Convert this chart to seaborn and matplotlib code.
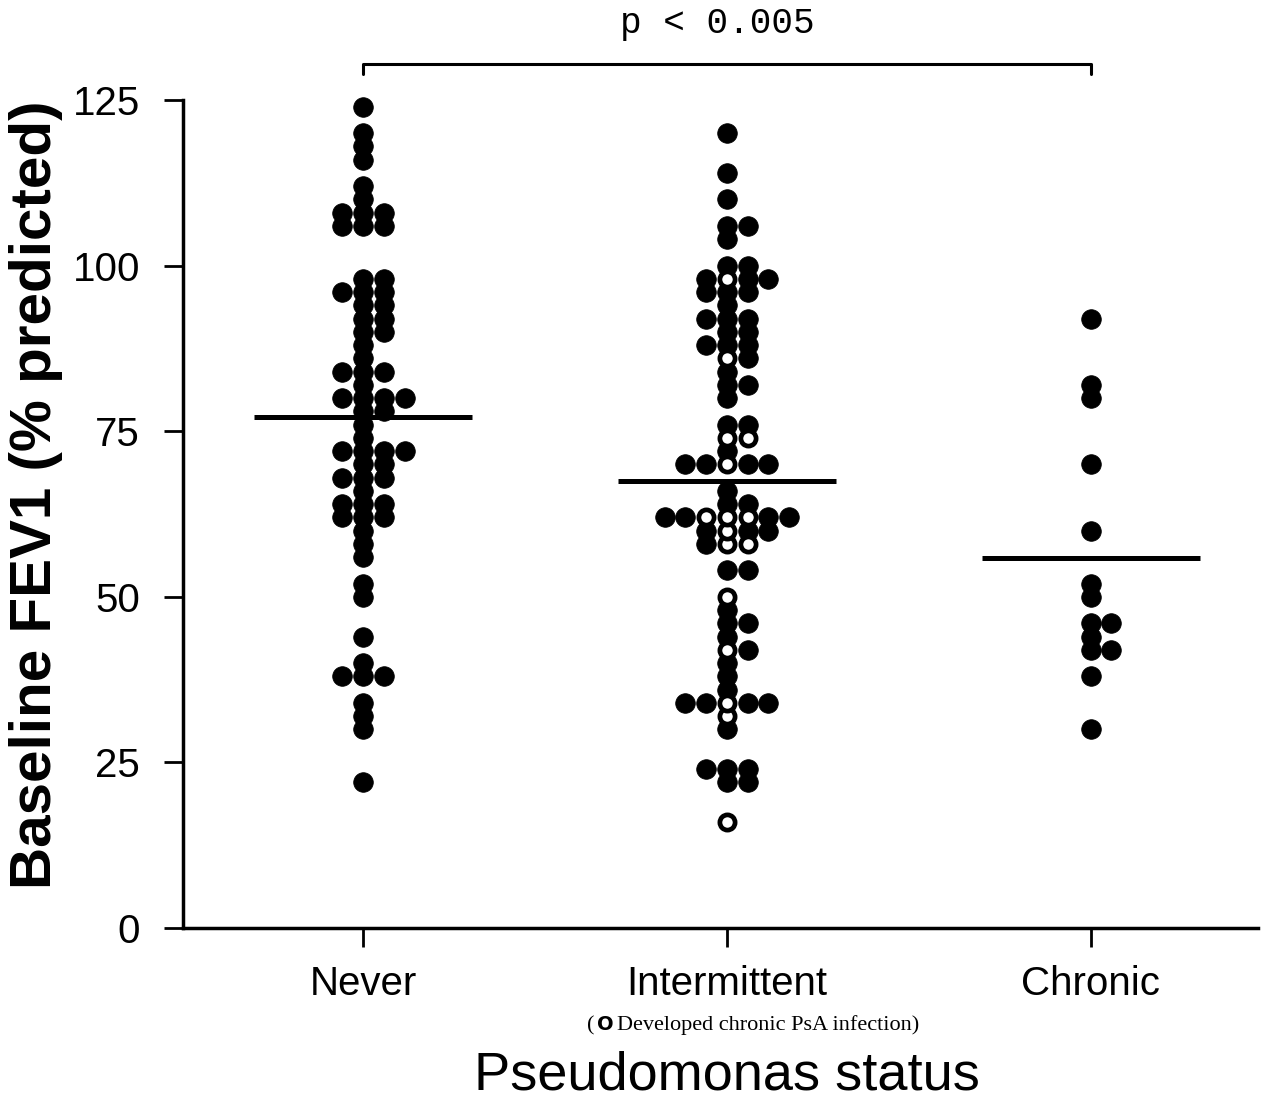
import numpy as np
import pandas as pd
import seaborn as sns
import matplotlib.pyplot as plt

# Data (FEV1 % predicted, one value per patient)
statuses = ['Never', 'Intermittent', 'Chronic']

never_fev1 = [124, 120, 118, 116, 112, 110, 108, 108, 108, 106, 106, 106,
              98, 98, 96, 96, 96, 94, 94, 92, 92, 90, 90, 88, 86,
              84, 84, 84, 82, 80, 80, 80, 80, 78, 78, 76, 74,
              72, 72, 72, 72, 70, 70, 68, 68, 68, 66, 64, 64, 64,
              62, 62, 62, 60, 58, 56, 52, 50, 44, 40, 38, 38, 38,
              34, 32, 30, 22]

# intermittent patients who stayed intermittent (filled dots)
intermittent_fev1 = [120, 114, 110, 106, 106, 104, 100, 100, 98, 98, 98,
                     96, 96, 96, 94, 92, 92, 92, 90, 90, 88, 88, 88, 86,
                     84, 82, 82, 80, 76, 76, 72, 70, 70, 70, 70, 66, 64, 64,
                     62, 62, 62, 62, 60, 60, 60, 58, 54, 54, 48, 46, 46,
                     44, 42, 40, 38, 36, 34, 34, 34, 34, 30, 24, 24, 24,
                     22, 22]
# intermittent patients who later developed chronic PsA infection (open dots)
intermittent_open_fev1 = [98, 86, 74, 74, 70, 62, 62, 62, 60, 58, 58, 50,
                          42, 34, 32, 16]

chronic_fev1 = [92, 82, 80, 70, 60, 52, 50, 46, 46, 44, 42, 42, 38, 30]

group_means = [77.2, 67.5, 55.8]
y_ticks = [0, 25, 50, 75, 100, 125]
p_label = 'p < 0.005'

# one row per patient
rows = []
for status, vals, developed in [('Never', never_fev1, False),
                                ('Intermittent', intermittent_fev1, False),
                                ('Intermittent', intermittent_open_fev1, True),
                                ('Chronic', chronic_fev1, False)]:
    rows += [(status, v, developed) for v in vals]
df = pd.DataFrame(rows, columns=['status', 'fev1', 'developed'])

# dot-plot layout: equal values are put side by side around the category
slots = [0, 1, -1, 2, -2, 3, -3, 4, -4]
step = 0.057
df = df.sort_values(['status', 'fev1', 'developed'],
                    ascending=[True, True, False], kind='stable')
df['slot'] = df.groupby(['status', 'fev1']).cumcount().map(lambda i: slots[i])
df['x'] = df['status'].map({s: i for i, s in enumerate(statuses)}) + df['slot'] * step

sns.set_style('ticks')
plt.rcParams['font.family'] = ['Liberation Sans', 'DejaVu Sans']
plt.rcParams.update({'text.color': 'black', 'axes.labelcolor': 'black',
                     'axes.edgecolor': 'black', 'xtick.color': 'black',
                     'ytick.color': 'black'})

fig = plt.figure(figsize=(12.78, 11.03), dpi=100)
ax = fig.add_axes([0.1432, 0.1587, 0.8412, 0.7506])

filled = df[~df['developed']]
opened = df[df['developed']]
sns.scatterplot(data=filled, x='x', y='fev1', color='black', s=200,
                edgecolor='black', linewidth=0.5, ax=ax, clip_on=False,
                zorder=3, legend=False)
sns.scatterplot(data=opened, x='x', y='fev1', color='white', s=120,
                edgecolor='black', linewidth=3.4, ax=ax, clip_on=False,
                zorder=4, legend=False)

# group mean bars
pos = np.arange(len(statuses))
ax.hlines(group_means, pos - 0.3, pos + 0.3, color='black', lw=3.6, zorder=5)

# significance bracket Never vs Chronic
ax.plot([0, 0, 2, 2], [128.9, 130.4, 130.4, 128.9], color='black', lw=2.2,
        clip_on=False)
fig.text(717 / 1278, 1 - 33 / 1103, p_label, ha='center', va='baseline',
         family='Liberation Mono', fontsize=26)

ax.set_xlim(-0.495, 2.46)
ax.set_ylim(0, 125)
ax.set_yticks(y_ticks)
ax.set_xticks(pos)
ax.set_xticklabels(statuses)
sns.despine(ax=ax)
for side in ['left', 'bottom']:
    ax.spines[side].set_linewidth(2.5)
ax.tick_params(axis='both', direction='out', length=14, width=2,
               labelsize=29, colors='black')
ax.tick_params(axis='y', pad=17)
ax.tick_params(axis='x', pad=13)

ax.set_xlabel('')
ax.set_ylabel('Baseline FEV1 (% predicted)', fontsize=42, fontweight='bold')
ax.yaxis.set_label_coords(-0.112, 0.523)

fig.text(0.569, 1 - 1090 / 1103, 'Pseudomonas status', ha='center',
         va='baseline', fontsize=39)

# footnote for the open dots
fy = 1 - 1030 / 1103
fig.text(587 / 1278, fy, '(', family='Liberation Serif', fontsize=16,
         va='baseline')
fig.text(597 / 1278, fy, 'O', family='DejaVu Sans', fontweight='bold',
         fontsize=14, va='baseline')
fig.text(617 / 1278, fy, 'Developed chronic PsA infection)',
         family='Liberation Serif', fontsize=16, va='baseline')

fig.savefig('out.png', dpi=100, facecolor='white')
